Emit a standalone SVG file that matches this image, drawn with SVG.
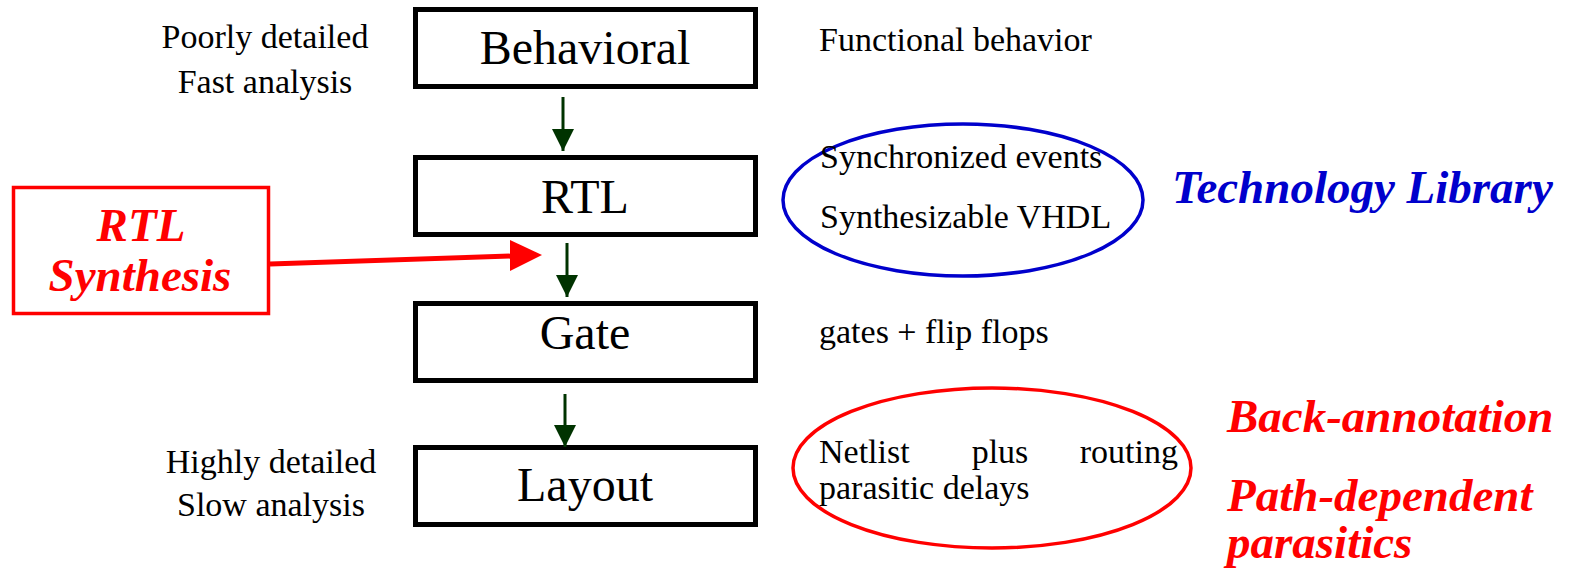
<svg xmlns="http://www.w3.org/2000/svg" width="1573" height="573" viewBox="0 0 1573 573">
<style>
.box{fill:#fff;stroke:#000;stroke-width:5}
.lbl{font-family:"Liberation Serif",serif;font-size:48px;fill:#000;text-anchor:middle}
.side{font-family:"Liberation Serif",serif;font-size:34px;fill:#000}
.mid{text-anchor:middle}
.bi{font-family:"Liberation Serif",serif;font-size:47px;font-weight:bold;font-style:italic}
.red{fill:#ff0000}
.blue{fill:#0000cc}
.g{stroke:#003300;stroke-width:3;fill:none}
</style>
<defs>
<marker id="ga" markerUnits="userSpaceOnUse" markerWidth="22" markerHeight="24" refX="22" refY="11" orient="auto">
<path d="M0,0 L22,11 L0,22 Z" fill="#003300"/>
</marker>
</defs>
<rect width="1573" height="573" fill="#fff"/>
<g id="behavioral">
<rect class="box" x="415.5" y="9.5" width="340" height="77"/>
<text class="lbl" x="585" y="64">Behavioral</text>
</g>
<g id="rtl">
<rect class="box" x="415.5" y="157.5" width="340" height="77"/>
<text class="lbl" x="585" y="213">RTL</text>
</g>
<g id="gate">
<rect class="box" x="415.5" y="303.5" width="340" height="77"/>
<text class="lbl" x="585" y="349">Gate</text>
</g>
<g id="layout">
<rect class="box" x="415.5" y="447.5" width="340" height="77"/>
<text class="lbl" x="585" y="501">Layout</text>
</g>
<g id="rtl-synthesis">
<rect x="13.5" y="187.5" width="255" height="126" fill="#fff" stroke="#ff0000" stroke-width="3.5"/>
<text class="bi red mid" x="141" y="241">RTL</text>
<text class="bi red mid" x="140" y="291">Synthesis</text>
</g>
<g id="left-notes">
<text class="side mid" x="265" y="48">Poorly detailed</text>
<text class="side mid" x="265" y="93">Fast analysis</text>
<text class="side mid" x="271" y="473">Highly detailed</text>
<text class="side mid" x="271" y="516">Slow analysis</text>
</g>
<g id="right-notes">
<text class="side" x="819" y="51">Functional behavior</text>
<text class="side" x="819" y="343">gates + flip flops</text>
</g>
<g id="tech-ellipse">
<ellipse cx="963" cy="200" rx="180" ry="76" fill="none" stroke="#0000cc" stroke-width="3.5"/>
<text class="side" x="820" y="168">Synchronized events</text>
<text class="side" x="820" y="228">Synthesizable VHDL</text>
</g>
<g id="netlist-ellipse">
<ellipse cx="992" cy="468" rx="199" ry="80" fill="none" stroke="#ff0000" stroke-width="3.5"/>
<text class="side" x="819" y="463">Netlist</text>
<text class="side" x="1000" y="463" text-anchor="middle">plus</text>
<text class="side" x="1178" y="463" text-anchor="end">routing</text>
<text class="side" x="819" y="499">parasitic delays</text>
</g>
<g id="tech-library">
<text class="bi blue" x="1172" y="203">Technology Library</text>
</g>
<g id="back-annotation">
<text class="bi red" x="1227" y="432">Back-annotation</text>
<text class="bi red" x="1227" y="511">Path-dependent</text>
<text class="bi red" x="1227" y="558">parasitics</text>
</g>
<g id="connectors">
<line class="g" x1="563" y1="97" x2="563" y2="151" marker-end="url(#ga)"/>
<line class="g" x1="567" y1="243" x2="567" y2="297" marker-end="url(#ga)"/>
<line class="g" x1="565" y1="394" x2="565" y2="447" marker-end="url(#ga)"/>
<line x1="270" y1="264" x2="512" y2="256" stroke="#ff0000" stroke-width="5"/>
<path d="M510,240 L542,255 L510,271 Z" fill="#ff0000"/>
</g>
</svg>
